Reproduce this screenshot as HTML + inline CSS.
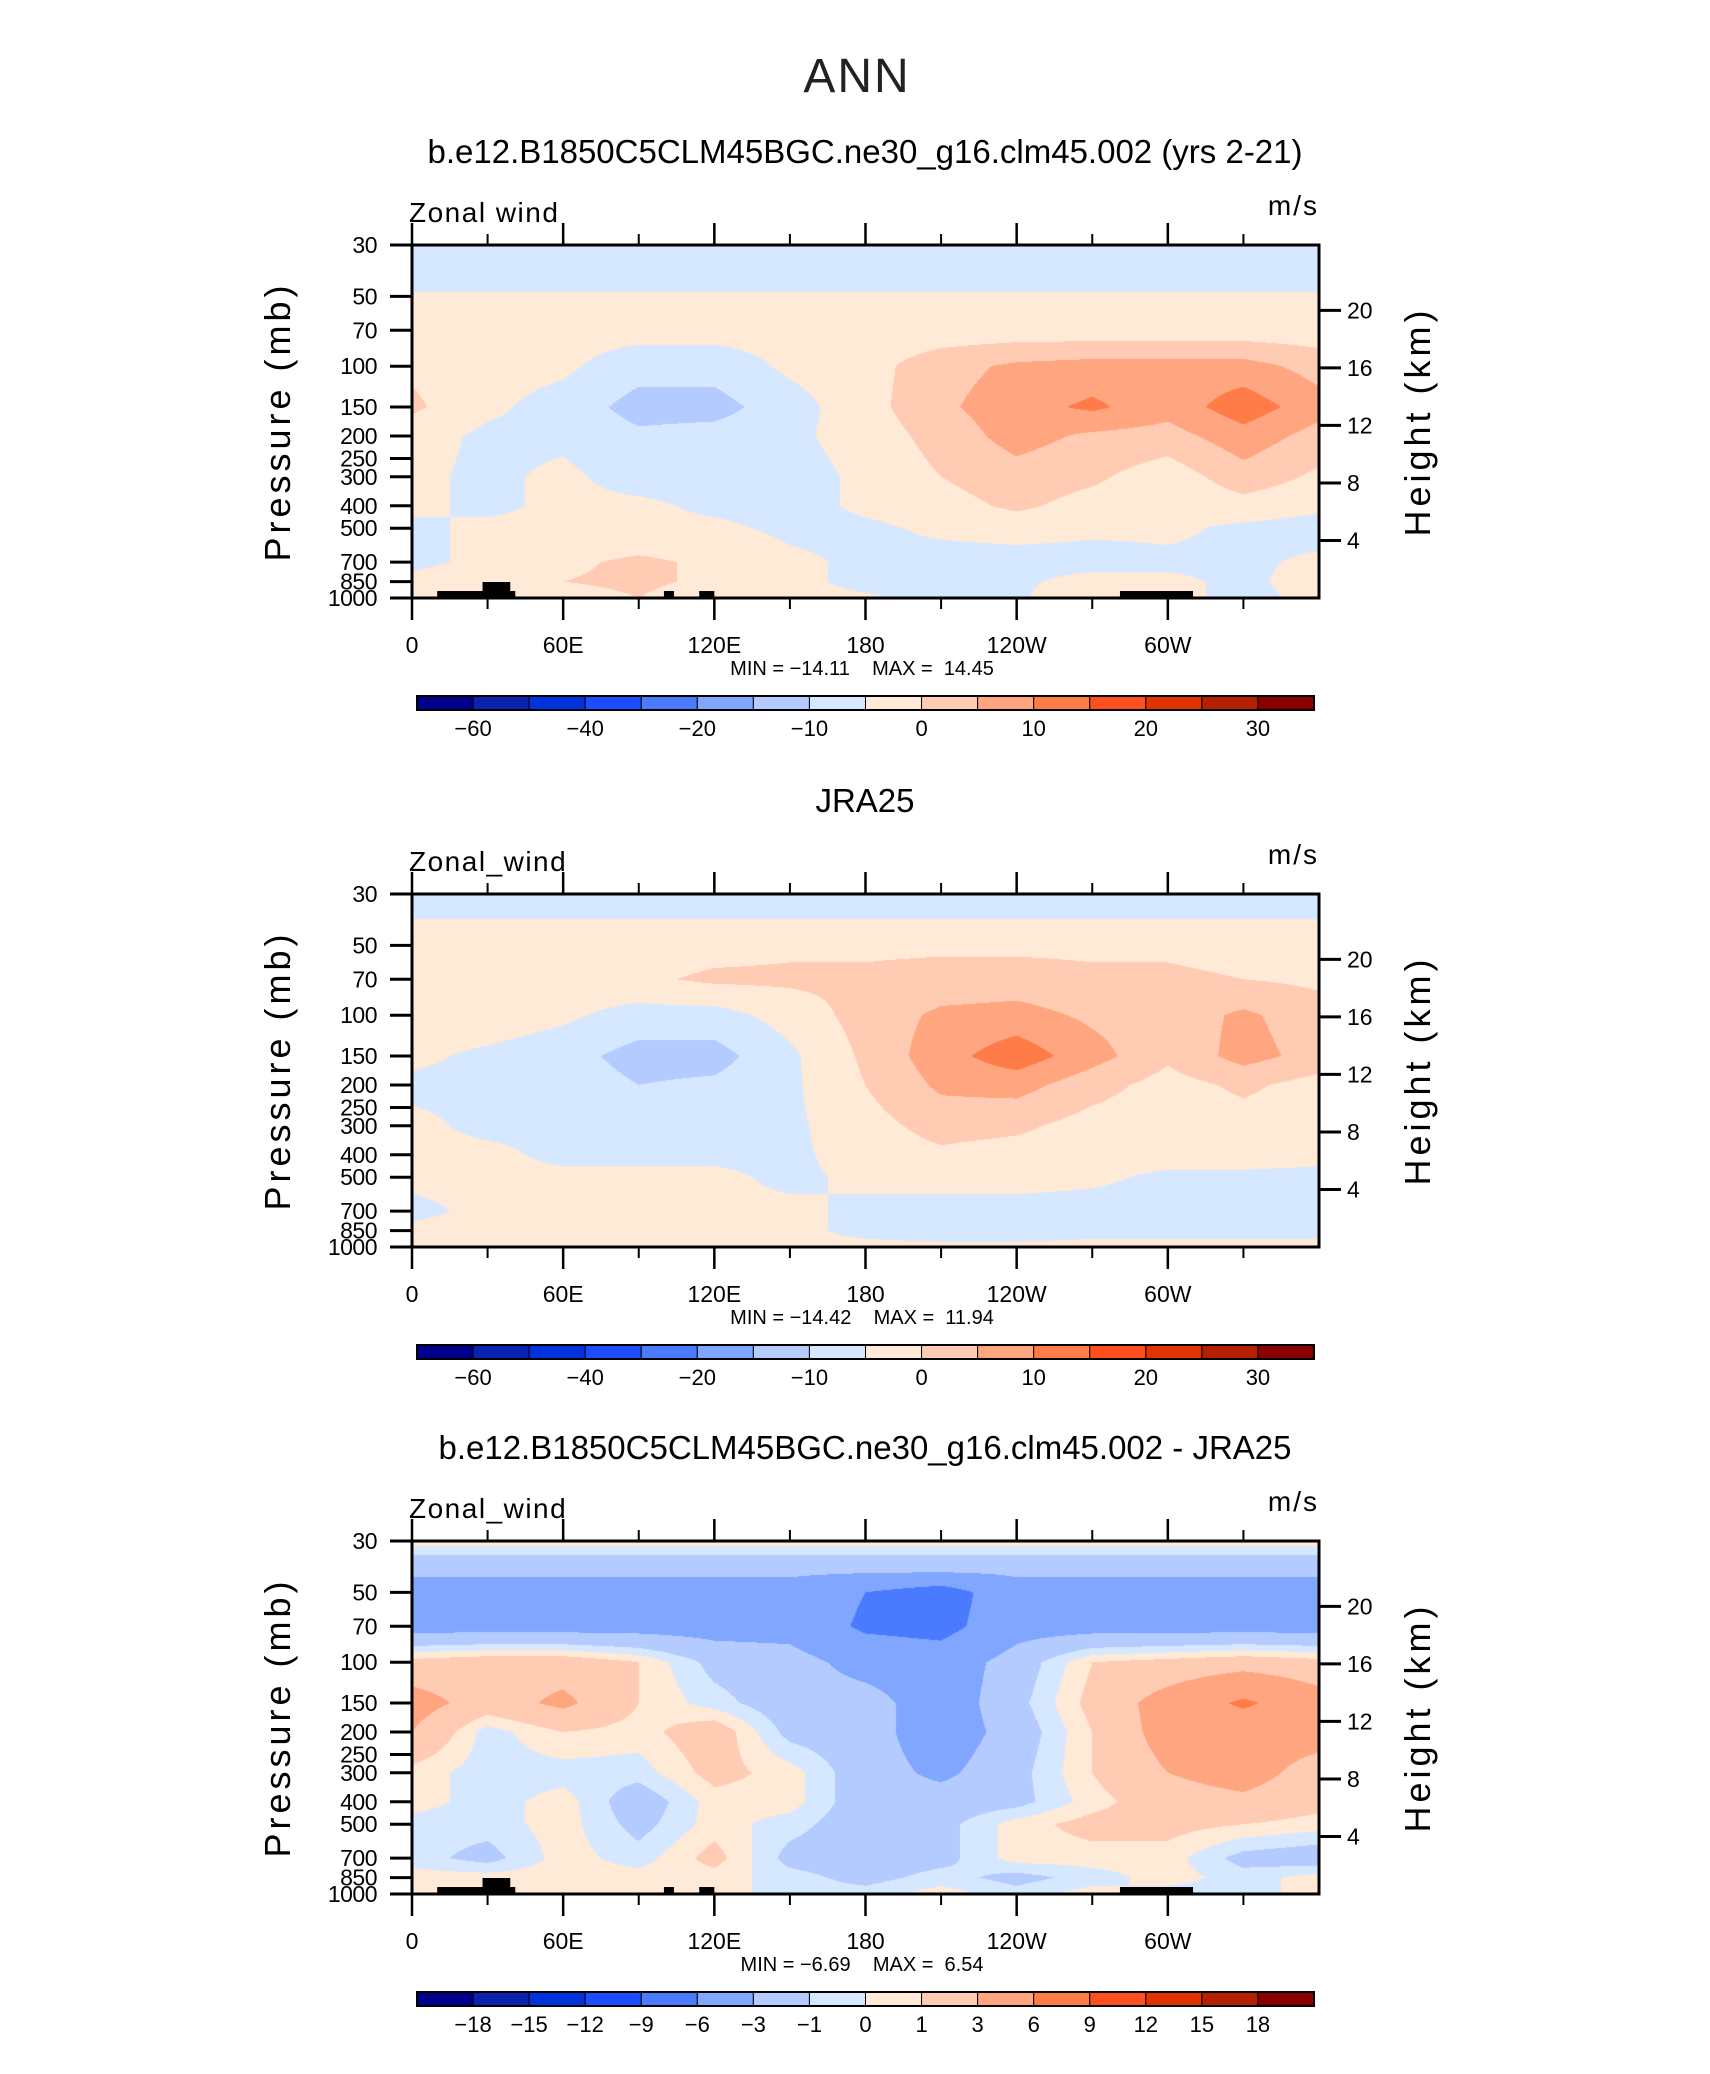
<!DOCTYPE html>
<html><head><meta charset="utf-8">
<style>
html,body{margin:0;padding:0;background:#fff;}
#root{position:relative;width:1710px;height:2074px;overflow:hidden;font-family:"Liberation Sans",sans-serif;}
canvas{position:absolute;}
svg{position:absolute;left:0;top:0;}
</style></head>
<body>
<div id="root">
<canvas id="c0"></canvas>
<canvas id="c1"></canvas>
<canvas id="c2"></canvas>
<svg id="svg" width="1710" height="2074"></svg>
</div>
<script>
// ---- data ----
const lons = [0,30,60,90,120,150,180,210,240,270,300,330,360];
const levels = [30,40,50,70,100,150,200,300,400,500,700,850,1000];
const model = [
 [-3,-3,-3,-3,-3,-3,-3,-3,-3,-3,-3,-3,-3],
 [-2,-2,-2,-2,-2,-2,-2,-2,-2,-2,-2,-2,-2],
 [0.5,0.5,0.5,0.5,0.5,0.5,0.5,0.5,0.5,0.5,0.5,0.5,0.5],
 [2,2,2,2,2,2,2,2,2,2,2,2,2],
 [4,2,1,-3,-3,1,3,8,11,12,12,12,8],
 [6,1,-2,-7,-7,-2,3,9,13,16,12,18,12],
 [2,-1,-1,-4,-3,-1,2,7,12,9,8,13,8],
 [1,-1,1,-2,-3,-2,1,5,8,6,2,8,4],
 [1,-1,1,1,-1,-2,1,3,6,3,1,3,1],
 [-1,1,1,1,1,-1,-1,1,2,1,1,-1,-2],
 [-1,1,4,6,4,1,-1,-2,-2,-2,-1,-1,1],
 [1,3,5,6,4,1,-1,-2,-1,2,1,-1,2],
 [2,2,3,5,2,1,0.5,-1,-1,5,2,-2,2]
];
const obs = [
 [-3,-3,-3,-3,-3,-3,-3,-3,-3,-3,-3,-3,-3],
 [0.5,0.5,0.5,0.5,0.5,0.5,0.5,0.5,0.5,0.5,0.5,0.5,0.5],
 [2,2,2,2,3,4,4,4,4,4,4,3,2],
 [2,2,2,4,6,6,6,7,7,6,6,5,4],
 [3,3,1,-2,-2,2,7,11,12,9,7,11,7],
 [1,-1,-3,-7,-7,-1,6,13,18,12,6,12,8],
 [-1,-1,-2,-5,-4,-1,5,11,12,7,3,6,3],
 [1,-1,-1,-2,-2,-1,3,7,6,3,2,3,2],
 [1,1,-1,-1,-1,-1,2,4,3,2,2,2,1],
 [1,1,1,1,1,-1,1,2,2,1,-1,-1,-1],
 [-1,1,4,3,1,1,-1,-2,-2,-2,-2,-2,-1],
 [1,1,3,2,1,1,-1,-2,-2,-1,-1,-1,-1],
 [3,1,1,1,1,1,1,1,1,1,1,1,1]
];
const diff = [
 [0.5,0.5,0.5,0.5,0.5,0.5,0.5,0.5,0.5,0.5,0.5,0.5,0.5],
 [-2.5,-2.5,-2.5,-2.5,-2.5,-2.5,-2.5,-2.5,-2.5,-2.5,-2.5,-2.5,-2.5],
 [-4,-4,-4,-4,-4,-4,-6,-7.5,-4,-4,-4,-4,-4],
 [-4,-4,-4,-4,-4,-4,-6.5,-7,-4,-4,-4,-4,-4],
 [1.5,2,2,1,-1.5,-2,-4,-4.5,-2,1,1.5,2,1.5],
 [4,2,3.5,1,-0.5,-2,-2,-4.5,-1.5,1.5,4,6.5,4],
 [3,-0.5,1,0.5,2,-1.5,-2,-4.5,-2,1,4,4,4],
 [0.5,-0.5,-0.5,-0.5,1.5,0.5,-2,-3.5,-1.5,1,3,4,2],
 [0.5,-0.5,0.5,-2,0.5,0.5,-2,-2,-1.5,0.5,2,2.5,1.5],
 [-0.5,-0.5,0.5,-1.5,0.5,-0.5,-2,-1.5,0.5,1.5,1.5,1,0.5],
 [-0.5,-1.5,0.5,-0.5,1.5,-1.5,-2,-1.5,0.5,0.5,0.5,-1.5,-2],
 [0.5,0.5,0.5,0.5,0.5,-0.5,-1.5,-0.5,-1.5,-0.5,0.5,-0.5,0.5],
 [0.5,0.5,0.5,0.5,0.5,-0.5,-0.5,0.5,-0.5,0.5,-0.5,-0.5,0.5]
];
const boundsAbs = [-40,-35,-30,-25,-20,-10,-5,0,5,10,15,20,25,30,35];
const boundsDiff = [-18,-15,-12,-9,-6,-3,-1,0,1,3,6,9,12,15,18];
const cbLabelsAbs = ["−60","","−40","","−20","","−10","","0","","10","","20","","30"];
const cbLabelsDiff = ["−18","−15","−12","−9","−6","−3","−1","0","1","3","6","9","12","15","18"];
const pTicks = [30,50,70,100,150,200,250,300,400,500,700,850,1000];
const zTicks = [4,8,12,16,20];
const lonMajor = [0,60,120,180,240,300];
const lonMajorLabels = ["0","60E","120E","180","120W","60W"];
const lonMinor = [30,90,150,210,270,330];
const landLow = [[10,41],[100,104],[114,120],[281,310]];
const landHigh = [[28,39]];
const colors = ["#00008a","#0a22b0","#0033dd","#1e4cff","#4a7bff","#80a6ff","#b3cbff","#d6e8ff","#ffe9d7","#ffcbb3","#ffa680","#ff7c48","#ff4f1e","#e03300","#b42000","#8a0000"];

// ---- layout ----
const PX0=412, PW=907, PH=353;
const panelTop=[245,894,1541];
const panels=[
 {data:model,bounds:boundsAbs,cb:cbLabelsAbs,title:"b.e12.B1850C5CLM45BGC.ne30_g16.clm45.002 (yrs 2-21)",var:"Zonal wind",min:"−14.11",max:"14.45",land:true},
 {data:obs,bounds:boundsAbs,cb:cbLabelsAbs,title:"JRA25",var:"Zonal_wind",min:"−14.42",max:"11.94",land:false},
 {data:diff,bounds:boundsDiff,cb:cbLabelsDiff,title:"b.e12.B1850C5CLM45BGC.ne30_g16.clm45.002 - JRA25",var:"Zonal_wind",min:"−6.69",max:"6.54",land:true}
];
const L30=Math.log10(30), L1000=Math.log10(1000);
function xOf(lon){return PX0+lon/360*PW;}
function yOf(p,top){return top+(Math.log10(p)-L30)/(L1000-L30)*PH;}
function pOfZ(z){return 1000*Math.exp(-z/7);}

function hexRgb(h){return [parseInt(h.substr(1,2),16),parseInt(h.substr(3,2),16),parseInt(h.substr(5,2),16)];}
const rgb=colors.map(hexRgb);
const lvLog=levels.map(p=>Math.log10(p));

function sample(data,lon,lp){
  let i=Math.min(Math.floor(lon/30),lons.length-2); let fx=(lon-lons[i])/30;
  let j=0; while(j<levels.length-2 && lp>lvLog[j+1]) j++;
  let fy=(lp-lvLog[j])/(lvLog[j+1]-lvLog[j]); fy=Math.max(0,Math.min(1,fy));
  const a=data[j][i],b=data[j][i+1],c=data[j+1][i],d=data[j+1][i+1];
  return (a*(1-fx)+b*fx)*(1-fy)+(c*(1-fx)+d*fx)*fy;
}
function classify(v,b){let k=0;while(k<b.length&&v>=b[k])k++;return k;}

panels.forEach((pn,idx)=>{
  const cv=document.getElementById('c'+idx);
  cv.width=PW;cv.height=PH;cv.style.left=PX0+'px';cv.style.top=panelTop[idx]+'px';
  const ctx=cv.getContext('2d');const img=ctx.createImageData(PW,PH);
  for(let y=0;y<PH;y++){const lp=L30+(y+0.5)/PH*(L1000-L30);
    for(let x=0;x<PW;x++){const lon=(x+0.5)/PW*360;
      const c=rgb[classify(sample(pn.data,lon,lp),pn.bounds)];
      const o=(y*PW+x)*4;img.data[o]=c[0];img.data[o+1]=c[1];img.data[o+2]=c[2];img.data[o+3]=255;}}
  ctx.putImageData(img,0,0);
});

// ---- svg overlay ----
const NS="http://www.w3.org/2000/svg";const svg=document.getElementById('svg');
function el(tag,attrs,parent,text){const e=document.createElementNS(NS,tag);for(const k in attrs)e.setAttribute(k,attrs[k]);if(text!==undefined)e.textContent=text;(parent||svg).appendChild(e);return e;}

let t=el('text',{x:857,y:92,'font-size':48,'text-anchor':'middle',fill:'#222','letter-spacing':'2'},svg,"ANN");



panels.forEach((pn,idx)=>{
  const top=panelTop[idx], off=top-245, bot=top+PH;
  const g=el('g',{},svg);
  
  
  let e=el('text',{x:865,y:163+off,'font-size':33,'text-anchor':'middle',fill:'#000'},g,pn.title);
  
  
  e=el('text',{x:409,y:222+off,'font-size':28,fill:'#000','letter-spacing':'1.5'},g,pn.var);
  
  
  e=el('text',{x:1319,y:215+off,'font-size':28,'text-anchor':'end',fill:'#000','letter-spacing':'2'},g,"m/s");
  
  
  if(pn.land){
    landLow.forEach(r=>{const b=el('rect',{x:xOf(r[0]),y:yOf(933,top),width:xOf(r[1])-xOf(r[0]),height:bot-yOf(933,top),fill:'#000'},g);
      
      });
    landHigh.forEach(r=>{const b=el('rect',{x:xOf(r[0]),y:yOf(853,top),width:xOf(r[1])-xOf(r[0]),height:bot-yOf(853,top),fill:'#000'},g);
      
      });
  }
  e=el('rect',{x:PX0,y:top,width:PW,height:PH,fill:'none',stroke:'#000','stroke-width':3},g);
  
  
  lonMajor.forEach((lon,i)=>{const x=xOf(lon);
    el('line',{x1:x,x2:x,y1:top-22,y2:top,stroke:'#000','stroke-width':2.5},g);
    el('line',{x1:x,x2:x,y1:bot,y2:bot+22,stroke:'#000','stroke-width':2.5},g);
    const l=el('text',{x:x,y:653+off,'font-size':23,'text-anchor':'middle',fill:'#000'},g,lonMajorLabels[i]);
    
    });
  lonMinor.forEach(lon=>{const x=xOf(lon);
    el('line',{x1:x,x2:x,y1:top-11,y2:top,stroke:'#000','stroke-width':2},g);
    el('line',{x1:x,x2:x,y1:bot,y2:bot+11,stroke:'#000','stroke-width':2},g);});
  pTicks.forEach(p=>{const y=yOf(p,top);
    el('line',{x1:PX0-22,x2:PX0,y1:y,y2:y,stroke:'#000','stroke-width':3},g);
    const l=el('text',{x:377,y:y+8,'font-size':23,'text-anchor':'end',fill:'#000','letter-spacing':'-0.5'},g,String(p));
    
    });
  zTicks.forEach(z=>{const y=yOf(pOfZ(z),top);
    el('line',{x1:PX0+PW,x2:PX0+PW+22,y1:y,y2:y,stroke:'#000','stroke-width':3},g);
    const l=el('text',{x:1347,y:y+8,'font-size':23,fill:'#000'},g,String(z));
    
    });
  const cy=top+PH/2;
  e=el('text',{x:0,y:0,'font-size':36,'text-anchor':'middle',fill:'#000','letter-spacing':'4',transform:`translate(290,${cy}) rotate(-90)`},g,"Pressure (mb)");
  
  
  e=el('text',{x:0,y:0,'font-size':36,'text-anchor':'middle',fill:'#000','letter-spacing':'4',transform:`translate(1430,${cy}) rotate(-90)`},g,"Height (km)");
  
  
  e=el('text',{x:862,y:675+off,'font-size':20,'text-anchor':'middle',fill:'#000',style:'white-space:pre'},g,"MIN = "+pn.min+"    MAX =  "+pn.max);
  
  
  const cbx=417,cbw=(1314-417)/16,cby=696+off;
  colors.forEach((c,k)=>{const r=el('rect',{x:cbx+k*cbw,y:cby,width:cbw,height:14,fill:c,stroke:'#000','stroke-width':1},g);
    
    });
  el('rect',{x:cbx,y:cby,width:cbw*16,height:14,fill:'none',stroke:'#000','stroke-width':2},g);
  pn.cb.forEach((s,k)=>{if(!s)return;const l=el('text',{x:cbx+(k+1)*cbw,y:736+off,'font-size':22,'text-anchor':'middle',fill:'#000'},g,s);
    
    });
});
</script>
</body></html>
